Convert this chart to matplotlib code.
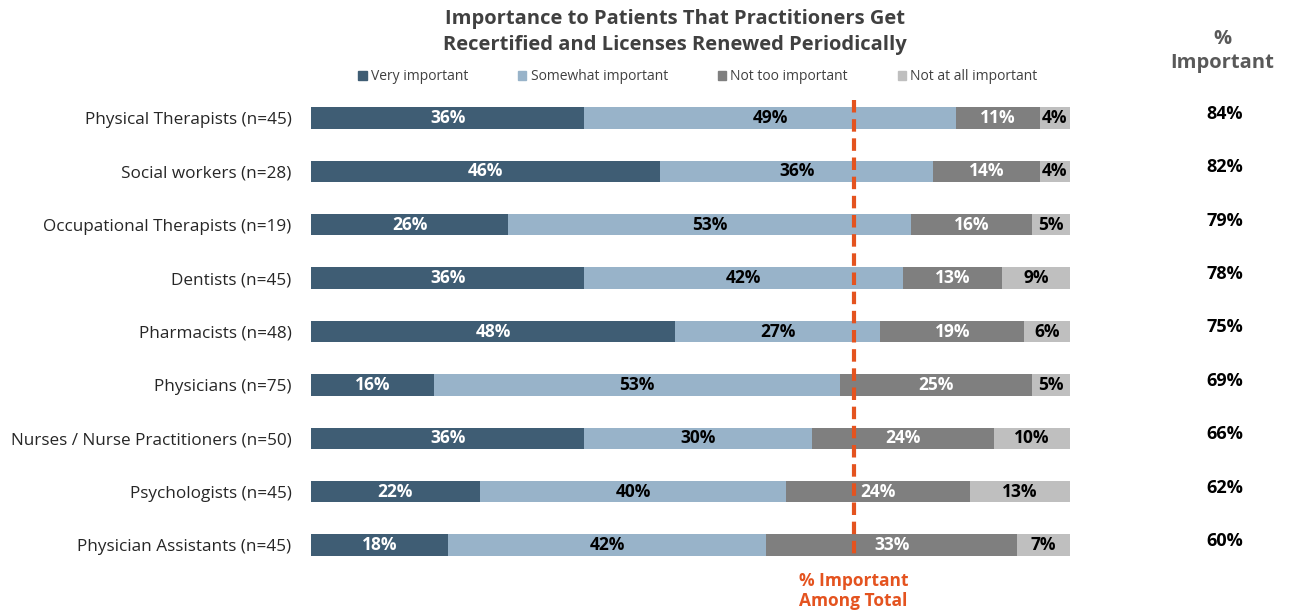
import numpy as np
import matplotlib
matplotlib.use("Agg")
import matplotlib.pyplot as plt
import matplotlib.patches as mpatches

plt.rcParams['font.family'] = ['Open Sans', 'DejaVu Sans']

# data
groups = ["Physical Therapists (n=45)", "Social workers (n=28)", "Occupational Therapists (n=19)",
          "Dentists (n=45)", "Pharmacists (n=48)", "Physicians (n=75)",
          "Nurses / Nurse Practitioners (n=50)", "Psychologists (n=45)", "Physician Assistants (n=45)"]
very = [36, 46, 26, 36, 48, 16, 36, 22, 18]
somewhat = [49, 36, 53, 42, 27, 53, 30, 40, 42]
not_too = [11, 14, 16, 13, 19, 25, 24, 24, 33]
not_at_all = [4, 4, 5, 9, 6, 5, 10, 13, 7]
pct_important = [84, 82, 79, 78, 75, 69, 66, 62, 60]
total_important = 71.5

series = ["Very important", "Somewhat important", "Not too important", "Not at all important"]
colors = ["#3f5d74", "#98b3c9", "#7f7f7f", "#bfbfbf"]
text_colors = ["white", "black", "white", "black"]

vals = np.array([very, somewhat, not_too, not_at_all], dtype=float)
widths = vals / vals.sum(axis=0) * 100  # bars fill the full width
y = np.arange(len(groups))

fig = plt.figure(figsize=(12.9, 6.13), dpi=100)
ax = fig.add_axes([311/1290, 0.0674, (1070-311)/1290, 0.851-0.0674])

left = np.zeros(len(groups))
for s in range(4):
    ax.barh(y, widths[s], left=left, height=0.4, color=colors[s], label=series[s])
    for i in range(len(groups)):
        ax.text(left[i] + widths[s][i]/2, y[i], "%d%%" % vals[s][i], ha='center', va='center',
                color=text_colors[s], fontsize=12.5, fontweight='bold')
    left += widths[s]

ax.set_xlim(0, 100)
ax.set_ylim(8.5, -0.5)
ax.set_yticks(y)
ax.set_yticklabels(groups, fontsize=12.3, color="#262626")
ax.tick_params(axis='y', length=0, pad=14)
ax.set_xticks([])
for sp in ax.spines.values():
    sp.set_visible(False)

# total line
ax.plot([total_important, total_important], [-0.34, 8.28], color="#e4531f", lw=3,
        linestyle=(0, (3, 1.6)), zorder=5)
ax.text(total_important, 8.5, "% Important\nAmong Total", ha='center', va='top',
        color="#e4531f", fontsize=12.5, fontweight='bold', linespacing=1.15)

# title + legend
fig.text(675/1290, 1 - 32/613, "Importance to Patients That Practitioners Get\nRecertified and Licenses Renewed Periodically",
         ha='center', va='center', fontsize=14.5, fontweight='bold', color="#404040", linespacing=1.35)
handles = [mpatches.Patch(color=colors[s], label=series[s]) for s in range(4)]
fig.legend(handles=handles, loc='center', bbox_to_anchor=(698/1290, 1 - 77/613), ncol=4,
           frameon=False, fontsize=10, handlelength=0.6, handleheight=0.6, handletextpad=0.3,
           columnspacing=3.6, labelcolor="#404040")

# right column
fig.text(1222/1290, 1 - 51/613, "%\nImportant", ha='center', va='center', fontsize=14.5,
         fontweight='bold', color="#595959", linespacing=1.3)
for i, p in enumerate(pct_important):
    fig.text(1225/1290, 1 - (114 + 53.375*i)/613, "%d%%" % p, ha='center', va='center',
             fontsize=13, fontweight='bold', color="black")

fig.savefig("out.png", dpi=100)
